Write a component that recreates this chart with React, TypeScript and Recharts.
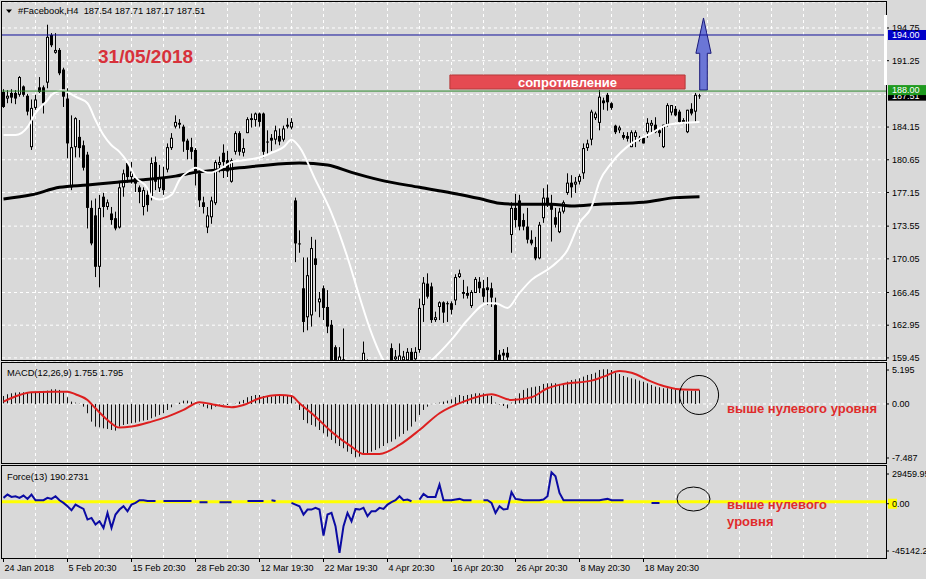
import React from 'react';
import {
  ComposedChart, Bar, Line, XAxis, YAxis, CartesianGrid,
  ReferenceLine, ReferenceArea, ReferenceDot,
} from 'recharts';

const FONT = '"Liberation Sans", Arial, sans-serif';
const BG = '#d9d9d9';

// ---------- price candles (H4), bar index 0..174 ----------
const opens = [
  187.9,187.2,187.8,187.8,187.6,188.5,187.5,182.0,186.2,188.4,
  188.4,188.9,194.0,192.1,192.4,190.3,187.2,177.7,182.0,183.1,
  182.2,181.2,175.5,174.7,169.2,176.7,175.6,174.9,174.4,173.4,
  177.7,180.3,178.8,178.7,177.7,175.6,176.9,176.7,180.4,177.6,
  178.8,179.6,181.9,184.2,184.4,184.2,182.7,182.0,181.7,179.2,
  176.1,173.4,174.5,176.0,180.1,181.4,180.6,178.3,181.5,183.5,
  181.4,183.5,184.9,184.9,185.6,185.6,182.6,183.0,182.8,183.2,
  182.8,184.2,184.1,176.3,171.7,166.9,163.8,164.0,170.1,165.4,
  166.9,164.9,163.0,160.6,158.8,159.0,158.0,156.8,157.5,155.8,
  157.8,159.0,157.0,156.0,155.5,157.0,156.8,160.5,159.3,158.8,
  159.2,159.2,160.1,159.3,160.3,165.1,167.4,167.1,163.5,164.9,
  165.4,165.3,165.3,165.6,168.1,166.5,166.4,165.0,166.4,167.6,
  166.9,167.0,166.9,165.1,159.8,160.0,160.0,172.6,175.5,176.3,
  174.2,173.5,172.1,171.3,170.1,174.4,176.6,176.0,174.5,172.9,
  175.1,177.1,178.2,178.0,178.3,179.2,181.9,182.8,185.1,184.6,
  187.0,187.6,186.7,184.3,183.8,183.3,183.2,182.0,183.1,182.8,
  183.0,183.6,184.3,184.4,183.8,182.0,184.4,185.7,186.1,185.8,
  184.7,183.6,186.1,185.8,187.54,
];
const highs = [
  188.2,188.1,188.2,188.1,189.6,188.6,187.7,187.1,187.6,189.5,
  188.6,195.1,194.2,194.2,192.6,190.5,188.3,185.4,185.2,184.9,
  182.7,181.5,176.3,176.5,176.9,177.1,176.4,175.6,175.1,178.3,
  179.6,180.5,180.4,178.8,177.9,177.7,177.6,180.9,181.0,180.1,
  179.9,182.4,183.5,185.4,185.0,184.4,182.9,183.0,181.9,179.5,
  176.7,175.6,176.7,180.6,181.0,182.3,181.6,180.8,183.7,183.7,
  182.9,185.2,185.6,185.7,185.7,185.7,183.8,183.4,184.3,184.0,
  184.3,185.1,185.1,176.6,173.1,170.2,170.2,172.4,172.1,166.5,
  167.2,166.7,163.5,160.8,160.6,162.6,158.8,158.5,158.3,157.5,
  161.2,159.3,158.5,157.5,157.8,158.6,159.0,161.0,160.3,161.0,
  160.2,160.5,160.5,160.6,165.8,168.1,168.5,167.5,164.4,165.5,
  165.5,165.5,165.5,168.4,168.9,167.8,167.1,166.7,168.1,168.1,
  167.8,168.1,167.5,165.9,160.3,160.4,160.6,176.1,177.0,176.9,
  174.9,175.5,173.1,172.4,174.0,177.6,178.0,176.9,175.5,175.5,
  176.3,179.2,179.0,178.8,179.1,182.4,182.8,186.0,185.8,188.1,
  187.3,187.8,186.8,184.4,184.3,183.6,183.6,183.8,183.8,183.2,
  183.2,185.1,184.9,185.2,184.0,184.4,186.7,186.5,186.4,186.0,
  185.1,186.0,186.7,187.8,187.71,
];
const lows = [
  186.2,186.7,186.7,186.6,187.4,187.4,185.4,181.7,186.0,187.8,
  185.6,188.3,192.7,192.0,189.7,186.3,180.8,177.4,180.9,180.9,
  179.5,173.3,171.5,168.1,167.0,174.5,175.3,173.7,173.1,173.3,
  176.7,178.2,178.1,177.2,176.0,174.7,175.1,176.3,177.4,177.2,
  176.9,179.3,181.7,184.0,184.0,181.5,180.7,180.7,177.9,175.6,
  174.9,172.8,173.8,175.8,179.3,178.7,178.8,178.2,181.2,181.1,
  181.0,183.5,184.1,184.2,184.2,180.9,181.2,181.6,182.3,182.2,
  182.6,184.0,183.9,169.7,170.7,162.2,162.4,162.8,164.4,163.8,
  163.5,162.1,157.5,158.0,158.0,157.0,156.0,155.5,155.0,154.5,
  157.0,156.5,155.5,154.8,155.0,156.0,156.5,158.0,158.5,158.0,
  158.5,158.5,158.5,158.6,160.0,163.3,165.8,163.2,163.3,163.5,
  163.2,163.3,164.1,165.1,168.0,165.8,165.8,164.8,166.4,166.4,
  165.4,165.1,164.9,157.5,158.0,158.5,159.0,170.7,173.4,173.1,
  173.1,171.7,171.5,169.9,170.0,173.9,175.6,171.9,173.4,172.8,
  174.9,176.9,176.6,177.1,178.0,178.6,181.6,182.2,184.9,183.8,
  186.0,185.9,186.0,183.4,183.5,182.8,182.6,182.0,182.0,182.6,
  182.4,183.0,183.6,183.5,183.1,181.9,184.2,185.4,185.3,184.6,
  184.5,183.5,185.4,184.7,187.17,
];
const closes = [
  186.3,187.5,187.3,187.2,189.5,187.6,185.8,186.2,187.1,187.9,
  186.7,193.8,192.9,192.4,189.9,187.4,182.4,182.0,185.1,181.9,
  179.8,175.5,171.7,169.2,175.5,175.6,176.1,174.2,173.3,177.7,
  179.2,178.8,179.4,178.1,177.2,177.4,175.8,180.3,178.3,178.8,
  177.4,182.0,183.0,184.7,184.6,182.6,181.7,181.5,179.2,176.3,
  175.6,174.7,176.3,180.4,180.4,180.4,179.4,180.6,183.5,181.5,
  181.9,185.0,185.1,185.6,184.7,181.5,182.5,182.7,183.8,182.6,
  184.0,184.4,184.7,171.7,171.6,163.3,168.3,171.2,169.4,165.8,
  164.8,162.8,158.5,159.0,159.6,159.3,156.8,157.5,155.8,156.5,
  160.0,157.0,156.0,155.5,157.0,156.8,158.5,159.0,159.6,159.7,
  159.6,160.1,159.2,160.1,164.8,167.5,166.0,163.5,163.8,165.4,
  164.3,165.2,164.6,168.1,168.5,166.3,166.1,166.5,167.9,166.9,
  166.0,166.7,165.9,158.5,159.0,159.7,159.5,175.5,174.2,173.5,
  173.5,172.1,171.7,170.1,173.7,176.6,175.8,175.3,173.7,175.1,
  176.1,178.2,177.7,178.3,178.9,181.9,182.4,185.8,185.6,187.4,
  186.7,186.8,186.2,183.6,184.1,183.0,182.9,183.6,183.6,183.0,
  182.4,184.6,184.6,183.6,183.5,184.4,186.5,186.5,185.4,184.7,
  184.9,186.0,185.6,187.6,187.51,
];

// ---------- moving averages (values read at bar indices) ----------
const maWhiteIdx = [0,3,6,8,11,12,15,16,18,21,23,25,27,29,31,33,36,37,39,42,44,47,48,51,52,55,57,60,64,67,70,72,74,78,82,86,89,92,95,100,107,112,116,121,123,126,129,132,137,141,144,147,149,152,157,162,166,170,174];
const maWhiteVal = [183.3,183.3,184.15,185.65,187.04,187.58,188.1,187.9,187.4,186.7,184.9,183.3,182.2,181.5,180.4,178.8,177.6,176.7,176.4,176.9,178.5,179.6,179.8,179.3,179.3,179.9,180.4,180.6,180.9,181.4,182.0,182.8,182.0,178.5,174.95,170.2,166.0,162.1,159.2,157.6,159.2,161.4,163.5,165.3,165.3,164.8,166.4,167.8,169.2,171.0,173.9,175.6,178.3,180.3,182.4,183.5,184.4,184.6,184.7];
const maBlackIdx = [0,7,14,21,27,35,43,48,57,64,74,81,87,94,104,112,119,124,128,137,142,149,160,168,174];
const maBlackVal = [176.45,176.9,177.7,177.95,178.2,178.5,178.9,179.3,179.7,180.0,180.3,180.1,179.3,178.5,177.7,177.1,176.5,176.0,175.9,175.9,175.7,175.9,176.1,176.6,176.7];

// ---------- MACD(12,26,9) ----------
const macdMain = [
  1.01,1.23,1.35,1.44,1.48,1.48,1.48,1.48,1.48,1.56,
  1.65,1.69,1.86,1.86,1.78,1.44,0.85,0.30,0.17,0.08,
  -0.34,-1.18,-2.24,-2.87,-2.96,-3.09,-3.17,-3.30,-3.38,-2.87,
  -2.66,-2.54,-2.45,-2.37,-2.24,-2.11,-2.03,-1.82,-1.61,-1.39,
  -1.18,-0.76,-0.42,-0.02,0.17,0.42,0.42,0.30,0.17,-0.13,
  -0.34,-0.55,-0.68,-0.34,-0.13,-0.13,-0.13,-0.02,0.08,0.30,
  0.51,0.85,1.01,1.14,1.14,1.01,1.01,0.93,1.01,1.01,
  1.06,1.14,1.01,0.17,-0.76,-2.03,-2.45,-2.66,-2.87,-3.30,
  -3.72,-4.14,-4.56,-4.99,-5.33,-5.62,-6.05,-6.34,-6.76,-6.68,
  -6.47,-6.26,-6.05,-5.83,-5.62,-5.33,-4.99,-4.78,-4.48,-4.14,
  -3.80,-3.38,-2.87,-2.24,-1.39,-0.76,-0.34,-0.02,0.08,0.17,
  0.30,0.42,0.59,0.85,1.14,1.01,1.14,1.23,1.35,1.35,
  1.35,1.23,1.01,0.17,-0.13,-0.25,-0.55,0.17,0.72,1.35,
  1.78,1.99,2.11,2.20,2.28,2.54,2.62,2.62,2.62,2.54,
  2.62,2.83,3.04,3.13,3.25,3.47,3.68,3.80,3.97,4.31,
  4.40,4.40,4.31,3.97,3.80,3.55,3.38,3.25,3.13,2.96,
  2.83,2.62,2.41,2.20,2.11,1.99,1.99,1.90,1.86,1.78,
  1.69,1.69,1.69,1.69,1.755,
];
const signalIdx = [0,4,7,12,16,18,21,23,26,29,32,37,41,45,49,53,57,60,64,69,72,74,78,82,87,90,94,99,104,109,115,122,127,132,136,140,147,150,154,157,162,165,169,174];
const signalVal = [0.30,1.14,1.48,1.56,1.56,1.23,0.51,-0.55,-2.03,-3.00,-2.87,-2.24,-1.61,-0.76,0.21,-0.13,-0.42,-0.13,0.72,1.14,1.01,0.08,-1.61,-3.51,-5.41,-6.34,-6.34,-5.20,-3.30,-1.18,0.30,1.23,0.51,0.85,1.99,2.54,2.96,3.47,4.18,3.97,2.83,2.28,1.86,1.795];

// ---------- Force(13) (null = not drawn) ----------
const forceVals: (number | null)[] = [
  3075,5750,3880,4410,3075,4950,2270,5750,1200,1200,
  1200,3075,2270,4410,1200,-940,-3610,-6820,-2270,-4150,
  -5750,-14300,-12970,-18320,-15640,-20990,-8960,-20990,-10290,-6280,
  -3610,-7620,-2270,-940,1200,1200,670,670,670,null,
  670,670,670,670,670,670,670,670,null,-500,
  -500,-500,null,null,-500,-500,-500,-500,null,null,
  null,670,670,670,670,670,null,1200,670,null,
  null,null,-940,-2270,-3610,-10290,-6280,-6280,-4950,-6280,
  -27140,-10290,-8960,-19650,-41050,-19650,-8960,-15640,-5750,-6280,
  -4950,-11630,-7620,-7620,-4950,-5750,-2270,-400,1200,4410,
  1200,1740,400,null,1740,6280,3880,3880,3880,13770,
  1200,1200,1200,1740,2270,1200,1200,1200,null,null,
  1200,1200,-940,-8960,-3610,-6280,-5750,7620,2270,1740,
  1200,1200,1200,1200,1200,1740,4410,23660,20460,7090,
  1200,1200,1200,1200,1200,1200,1200,1200,1200,1200,
  1740,2270,1200,1200,1200,1200,null,null,null,null,
  null,null,-940,-940,-940,null,null,null,null,null,
  null,null,null,null,null,
];

// ---------- axes ----------
const xTickIdx = [0,16,32,48,64,80,96,112,128,144,160];
const xTickLabels = ['24 Jan 2018','5 Feb 20:30','15 Feb 20:30','28 Feb 20:30','12 Mar 19:30','22 Mar 19:30','4 Apr 20:30','16 Apr 20:30','26 Apr 20:30','8 May 20:30','18 May 20:30'];
const gridIdx = [8,16,24,32,40,48,56,64,72,80,88,96,104,112,120,128,136,144,152,160,168,176,184,192,200,208,216];
const priceTicks = [159.45,162.95,166.45,170.05,173.55,177.15,180.65,184.15,187.65,191.25,194.75];
const macdTicks = [5.195, 0, -7.487];
const forceTicks = [29459.95, 0, -45142.2];

const SLOTS = 221;
const X_DOMAIN: [number, number] = [-0.375, 220.625];
const PRICE_DOMAIN: [number, number] = [159.12, 197.53];
const MACD_DOMAIN: [number, number] = [-7.487, 5.195];
const FORCE_DOMAIN: [number, number] = [-45142.2, 29459.95];

const whiteMap = new Map(maWhiteIdx.map((k, j) => [k, maWhiteVal[j]]));
const blackMap = new Map(maBlackIdx.map((k, j) => [k, maBlackVal[j]]));
const sigMap = new Map(signalIdx.map((k, j) => [k, signalVal[j]]));

const rows: any[] = [];
for (let i = 0; i < SLOTS; i++) {
  if (i < opens.length) {
    rows.push({
      i,
      o: opens[i], h: highs[i], l: lows[i], c: closes[i],
      range: [lows[i], highs[i]],
      maW: whiteMap.has(i) ? whiteMap.get(i) : null,
      maB: blackMap.has(i) ? blackMap.get(i) : null,
      hist: macdMain[i],
      sig: sigMap.has(i) ? sigMap.get(i) : null,
      force: forceVals[i],
    });
  } else {
    rows.push({ i, force: null });
  }
}

// ---------- shapes ----------
const CandleShape = (props: any) => {
  const { x, y, width, height, payload } = props;
  if (!payload || payload.h == null || x == null) return null;
  const { o, h, l, c } = payload;
  const top = Math.min(y, y + height);
  const span = Math.abs(height);
  const cx = Math.floor(x + width / 2) + 0.5;
  const k = h > l ? span / (h - l) : 0;
  const bTop = top + (h - Math.max(o, c)) * k;
  const bBot = top + (h - Math.min(o, c)) * k;
  const bh = Math.max(1, bBot - bTop);
  const bull = c >= o;
  return (
    <g>
      <line x1={cx} x2={cx} y1={top} y2={top + span} stroke="#000" strokeWidth={1} />
      <rect x={cx - 1.5} y={bTop} width={3} height={bh} fill="#000" />
      {bull && bh > 2 ? <rect x={cx - 0.5} y={bTop + 1} width={1} height={bh - 2} fill="#fff" /> : null}
    </g>
  );
};

const HistShape = (props: any) => {
  const { x, y, width, height } = props;
  if (!height || x == null) return null;
  const cx = Math.floor(x + width / 2) + 0.5;
  return <line x1={cx} x2={cx} y1={y} y2={y + height} stroke="#111" strokeWidth={1} />;
};

const ArrowShape = (props: any) => {
  const { x, y, width, height } = props;
  if (x == null) return null;
  const cx = x + width / 2;
  const sw = width * 0.5;
  const base = y + height * 0.49;
  const d = `M${cx},${y} L${x + width},${base} L${cx + sw / 2},${base} L${cx + sw / 2},${y + height} L${cx - sw / 2},${y + height} L${cx - sw / 2},${base} L${x},${base} Z`;
  return <path d={d} fill="#6b76d6" stroke="#1a1a7a" strokeWidth={1} />;
};

const vGen = (p: any) => {
  const s = p && p.xAxis && p.xAxis.scale;
  if (!s) return [];
  return gridIdx.map((g) => (typeof s === 'function' ? s(g) : s.map(g)));
};

const priceTag = (text: string, bg: string, fg: string, up: number, h: number) => (p: any) => {
  const vb = p.viewBox || {};
  if (vb.x == null) return null;
  const x = vb.x + vb.width;
  const y = vb.y;
  return (
    <g>
      <rect x={x + 2} y={y - up} width={40} height={h} fill={bg} />
      <text x={x + 6} y={y - up + h - 2} fill={fg} fontSize={9} fontFamily={FONT}>{text}</text>
    </g>
  );
};

const makeYTick = (fmt: (v: number) => string | null, shift: (v: number) => number, bgFor?: (v: number) => string | null) => (p: any) => {
  const { x, y, payload } = p;
  const v = payload.value;
  const label = fmt(v);
  if (label == null) return <g />;
  const yy = y + shift(v);
  const bg = bgFor ? bgFor(v) : null;
  return (
    <g>
      {bg ? <rect x={x + 2} y={yy - 5} width={9} height={10} fill={bg} /> : null}
      <line x1={x} x2={x + 3} y1={yy} y2={yy} stroke="#000" />
      <text x={x + 6} y={yy + 3.2} fontSize={9} fontFamily={FONT} fill="#000">{label}</text>
    </g>
  );
};

const priceTick = makeYTick((v) => (v === 187.65 ? null : v.toFixed(2)), () => 0);
const macdTick = makeYTick((v) => (v === 0 ? '0.00' : String(v)), (v) => (v > 0 ? 7 : v < 0 ? -5 : 0));
const forceTick = makeYTick((v) => (v === 0 ? '0.00' : String(v)), (v) => (v > 0 ? 9 : v < 0 ? -7 : 2), (v) => (v === 0 ? '#ffff00' : null));

const XTick = (p: any) => {
  const { x, y, payload } = p;
  const idx = xTickIdx.indexOf(payload.value);
  return (
    <g>
      <line x1={x} x2={x} y1={y} y2={y + 4} stroke="#000" />
      <text x={x + 1} y={y + 13} fontSize={9} fontFamily={FONT} fill="#000">{xTickLabels[idx]}</text>
    </g>
  );
};

const textShape = (txt: string, size: number, color: string) => (p: any) => (
  <text x={p.cx} y={p.cy} fontSize={size} fontWeight="bold" fontFamily={FONT} fill={color}>{txt}</text>
);
const ellipseShape = (rx: number, ry: number) => (p: any) => (
  <ellipse cx={p.cx} cy={p.cy} rx={rx} ry={ry} fill="none" stroke="#000" strokeWidth={1} />
);

export default function App() {
  return (
    <div style={{ position: 'fixed', left: 0, top: 0, width: 926, height: 579, background: BG, overflow: 'hidden', fontFamily: FONT }}>
      {/* main price panel */}
      <div style={{ position: 'absolute', left: 0, top: 0 }}>
        <ComposedChart width={926} height={362} data={rows} margin={{ top: 2, right: 0, bottom: 1, left: 2 }}>
          <CartesianGrid stroke="#ffffff" strokeDasharray="3 3" verticalCoordinatesGenerator={vGen} />
          <XAxis type="number" dataKey="i" domain={X_DOMAIN} allowDataOverflow hide ticks={gridIdx} />
          <YAxis orientation="right" domain={PRICE_DOMAIN} allowDataOverflow ticks={priceTicks} interval={0}
            width={40} tickLine={false} axisLine={false} tickSize={0} tickMargin={0} tick={priceTick} />
          <Line dataKey="maB" stroke="#000" strokeWidth={3} dot={false} connectNulls type="monotone" isAnimationActive={false} />
          <Line dataKey="maW" stroke="#ffffff" strokeWidth={2} dot={false} connectNulls type="monotone" isAnimationActive={false} />
          <Bar dataKey="range" shape={CandleShape} isAnimationActive={false} />
          <ReferenceLine y={194} stroke="#10109a" strokeWidth={1} label={priceTag('194.00', '#0000c8', '#ffffff', 5, 10)} />
          <ReferenceLine y={187.51} stroke="none" label={priceTag('187.51', '#000000', '#ffffff', 5, 10)} />
          <ReferenceLine y={188} stroke="#2e8b2e" strokeWidth={1} label={priceTag('188.00', '#1f9a1f', '#ffffff', 6, 10)} />
          <ReferenceArea x1={111.6} x2={170.4} y1={188.22} y2={189.72} fill="#e54a52" fillOpacity={1} stroke="#b33a3a"
            label={{ value: 'сопротивление', position: 'center', fill: '#ffffff', fontSize: 13, fontWeight: 'bold', fontFamily: FONT }} />
          <ReferenceArea x1={173.1} x2={176.9} y1={188.11} y2={195.82} shape={ArrowShape} ifOverflow="visible" />
          <ReferenceDot x={23.625} y={190.97} r={1} ifOverflow="visible" shape={textShape('31/05/2018', 19, '#d7313a')} />
        </ComposedChart>
      </div>

      {/* MACD panel */}
      <div style={{ position: 'absolute', left: 0, top: 363 }}>
        <ComposedChart width={926} height={100} data={rows} margin={{ top: 0, right: 0, bottom: 0, left: 2 }}>
          <CartesianGrid stroke="#ffffff" strokeDasharray="3 3" horizontal={false} verticalCoordinatesGenerator={vGen} />
          <XAxis type="number" dataKey="i" domain={X_DOMAIN} allowDataOverflow hide ticks={gridIdx} />
          <YAxis orientation="right" domain={MACD_DOMAIN} allowDataOverflow ticks={macdTicks} interval={0}
            width={40} tickLine={false} axisLine={false} tickSize={0} tickMargin={0} tick={macdTick} />
          <ReferenceLine y={0} stroke="#ffffff" strokeDasharray="3 3" />
          <Bar dataKey="hist" shape={HistShape} isAnimationActive={false} />
          <Line dataKey="sig" stroke="#dd1f1f" strokeWidth={2} dot={false} connectNulls type="monotone" isAnimationActive={false} />
          <ReferenceDot x={173.9} y={1.14} r={19.5} ifOverflow="visible" fill="none" stroke="#000" strokeWidth={1} />
          <ReferenceDot x={180.9} y={-1.1} r={1} ifOverflow="visible" shape={textShape('выше нулевого уровня', 13, '#e02b2b')} />
        </ComposedChart>
      </div>

      {/* Force panel */}
      <div style={{ position: 'absolute', left: 0, top: 465 }}>
        <ComposedChart width={926} height={114} data={rows} margin={{ top: 0, right: 0, bottom: 0, left: 2 }}>
          <CartesianGrid stroke="#ffffff" strokeDasharray="3 3" horizontal={false} verticalCoordinatesGenerator={vGen} />
          <XAxis type="number" dataKey="i" domain={X_DOMAIN} allowDataOverflow ticks={xTickIdx} interval={0} height={21}
            tickLine={false} axisLine={false} tickSize={0} tickMargin={0} tick={XTick} />
          <YAxis orientation="right" domain={FORCE_DOMAIN} allowDataOverflow ticks={forceTicks} interval={0}
            width={40} tickLine={false} axisLine={false} tickSize={0} tickMargin={0} tick={forceTick} />
          <ReferenceLine y={0} stroke="#ffff00" strokeWidth={3} />
          <Line dataKey="force" stroke="#0b0ba3" strokeWidth={2} dot={false} type="linear" isAnimationActive={false} />
          <ReferenceDot x={172.5} y={2165} r={1} ifOverflow="visible" shape={ellipseShape(16.5, 12)} />
          <ReferenceDot x={180.9} y={-5855} r={1} ifOverflow="visible" shape={textShape('выше нулевого', 13, '#e02b2b')} />
          <ReferenceDot x={180.9} y={-19490} r={1} ifOverflow="visible" shape={textShape('уровня', 13, '#e02b2b')} />
        </ComposedChart>
      </div>

      {/* panel frames and titles */}
      <svg width={926} height={579} style={{ position: 'absolute', left: 0, top: 0, pointerEvents: 'none' }}>
        <g fill="none" stroke="#000" strokeWidth={1} shapeRendering="crispEdges">
          <rect x={1.5} y={1.5} width={885} height={359} />
          <rect x={1.5} y={362.5} width={885} height={101} />
          <rect x={1.5} y={465.5} width={885} height={93} />
        </g>
        <rect x={884} y={15} width={3} height={70} fill="#ffffff" />
        <polygon points="6,9.5 12,9.5 9,13" fill="#000" />
        <text x={18} y={14} fontSize={9.3} fontFamily={FONT} fill="#000" style={{ whiteSpace: 'pre' }}>{'#Facebook,H4  187.54 187.71 187.17 187.51'}</text>
        <text x={7} y={375.5} fontSize={9.3} fontFamily={FONT} fill="#000">MACD(12,26,9) 1.755 1.795</text>
        <text x={7} y={480} fontSize={9.3} fontFamily={FONT} fill="#000">Force(13) 190.2731</text>
      </svg>
    </div>
  );
}
